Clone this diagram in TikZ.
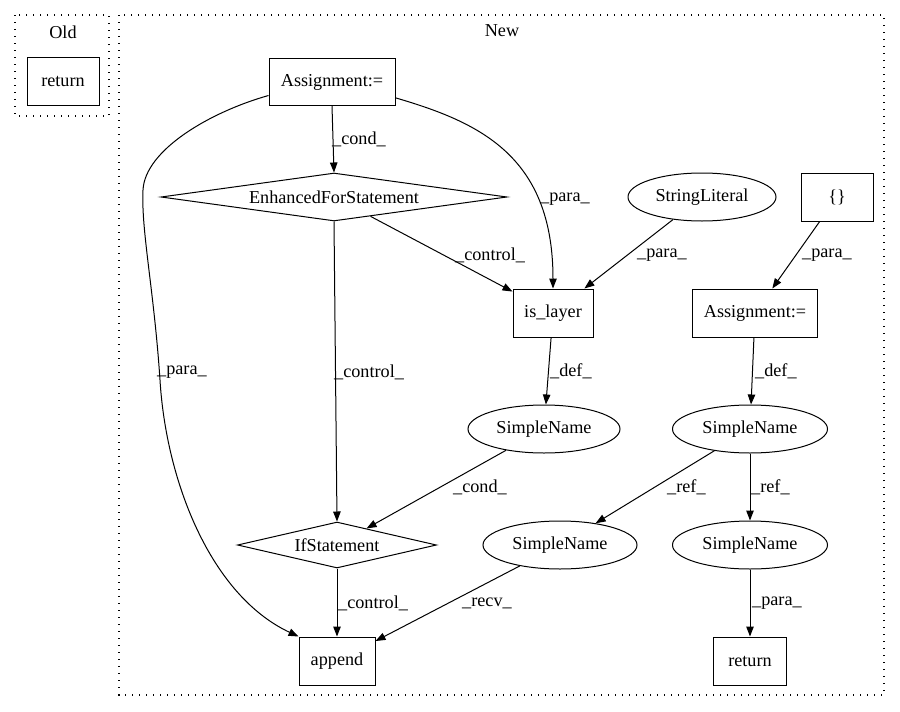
\documentclass[tikz,border=0pt]{standalone}
\usepackage{fontspec}
\setmainfont{Liberation Serif}
\usetikzlibrary{shapes.geometric,arrows.meta}
\begin{document}
\begin{tikzpicture}[x=1pt,y=-1pt,
  every node/.style={font=\fontsize{18.2}{22}\selectfont, inner sep=0pt},
  box/.style={draw, rectangle, line width=1pt, minimum height=48pt},
  oval/.style={draw, ellipse, line width=1pt, minimum height=48pt},
  dia/.style={draw, diamond, line width=1pt},
  conn/.style={line width=1pt, -{Triangle[length=10pt,width=7.5pt]}},
  lab/.style={anchor=west},
  cluster/.style={draw, line width=1.2pt, dash pattern=on 1.4pt off 5.6pt}
]
\useasboundingbox (0,0) rectangle (900,712);
% clusters
\draw[cluster] (15,15) rectangle (109,116);
\draw[cluster] (119,15) rectangle (884,695);
\node (oldlab) at (63,32) {Old};
\node (newlab) at (502,31) {New};
% nodes
\node[box, minimum width=72pt] (oret) at (63,81) {return};
\node[box, minimum width=126pt, minimum height=47pt] (a1) at (332,82) {Assignment:=};
\node[dia, minimum width=346pt, minimum height=48pt, aspect=7.2] (efs) at (334,197) {EnhancedForStatement};
\node[oval, minimum width=148pt] (sl) at (702,197) {StringLiteral};
\node[box, minimum width=72pt] (br) at (837,197) {\{\}};
\node[box, minimum width=80pt] (isl) at (553,313) {is\_layer};
\node[box, minimum width=125pt] (a2) at (755,313) {Assignment:=};
\node[oval, minimum width=152pt] (sn1) at (544,429) {SimpleName};
\node[oval, minimum width=155pt] (sn2) at (750,429) {SimpleName};
\node[dia, minimum width=199pt, minimum height=46pt, aspect=4.3] (ifs) at (337,545) {IfStatement};
\node[oval, minimum width=154pt] (sn3) at (560,545) {SimpleName};
\node[oval, minimum width=155pt] (sn4) at (750,545) {SimpleName};
\node[box, minimum width=76pt] (app) at (337,661) {append};
\node[box, minimum width=73pt] (ret) at (750,661) {return};
% edges
\draw[conn] (a1.south) -- (efs.north);
\node[lab] (l1) at (332,139) {\_cond\_};
\draw[conn] (a1.346) .. controls (478,122) and (553,155) .. (isl.north);
\node[lab] (l2) at (540,199) {\_para\_};
\draw[conn] (a1.192) .. controls (210,112) and (145,150) .. (143,190)
  .. controls (141,230) and (154,290) .. (160,380)
  .. controls (166,480) and (210,595) .. (app.north west);
\node[lab] (l3) at (157,372) {\_para\_};
\draw[conn] (efs) -- (isl);
\node[lab] (l4) at (455,255) {\_control\_};
\draw[conn] (efs.south) -- (ifs.north);
\node[lab] (l5) at (334,372) {\_control\_};
\draw[conn] (sl) -- (isl);
\node[lab] (l6) at (637,255) {\_para\_};
\draw[conn] (br) -- (a2);
\node[lab] (l7) at (802,255) {\_para\_};
\draw[conn] (isl) -- (sn1);
\node[lab] (l8) at (550,371) {\_def\_};
\draw[conn] (a2) -- (sn2);
\node[lab] (l9) at (755,371) {\_def\_};
\draw[conn] (sn1) -- (ifs);
\node[lab] (l10) at (453,487) {\_cond\_};
\draw[conn] (sn2) -- (sn3);
\node[lab] (l11) at (667,487) {\_ref\_};
\draw[conn] (sn2) -- (sn4);
\node[lab] (l12) at (751,487) {\_ref\_};
\draw[conn] (ifs.south) -- (app.north);
\node[lab] (l13) at (338,603) {\_control\_};
\draw[conn] (sn3) -- (app);
\node[lab] (l14) at (462,603) {\_recv\_};
\draw[conn] (sn4) -- (ret);
\node[lab] (l15) at (752,603) {\_para\_};
\end{tikzpicture}
\end{document}
